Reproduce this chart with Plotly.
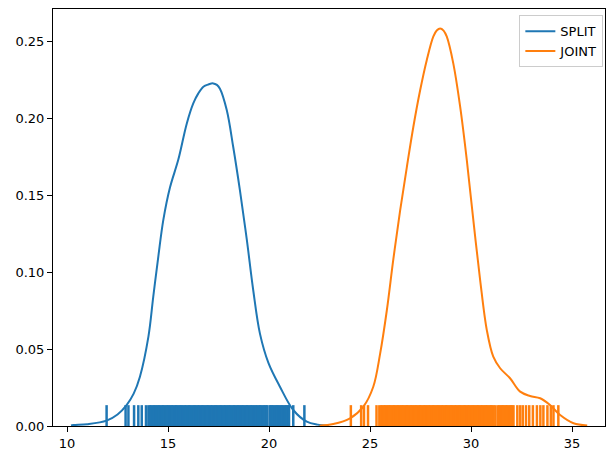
import plotly.graph_objects as go

# ---- KDE curves ----
split_kde_x = [10.20, 10.31, 11.00, 11.96, 12.50, 12.95, 13.30, 13.61, 14.03, 14.27, 14.52, 14.77,
               15.10, 15.51, 15.93, 16.25, 16.50, 16.75, 17.00, 17.24, 17.42, 17.57, 17.91, 18.23, 18.56, 18.90,
               19.22, 19.55, 19.97, 20.54, 21.20, 21.87, 22.40, 22.95]
split_kde_y = [0.0003, 0.0006, 0.0012, 0.0035, 0.0075, 0.0136, 0.0210, 0.0320, 0.0580, 0.0840, 0.1100, 0.1340,
               0.1550, 0.1730, 0.1965, 0.2095, 0.2160, 0.2203, 0.2218, 0.2225, 0.2215, 0.2190, 0.2050, 0.1810,
               0.1530, 0.1210, 0.0880, 0.0600, 0.0410, 0.0255, 0.0104, 0.0028, 0.0009, 0.0002]

joint_kde_x = [22.50, 23.18, 24.01, 24.67, 25.16, 25.50, 25.83, 26.15, 26.49, 26.82, 27.14, 27.48,
               27.81, 28.13, 28.30, 28.47, 28.64, 28.80, 29.12, 29.46, 29.79, 30.11, 30.45, 30.78, 31.10,
               31.44, 31.93, 32.43, 32.92, 33.42, 33.91, 34.41, 35.07, 35.75]
joint_kde_y = [0.0002, 0.0013, 0.0050, 0.0126, 0.0255, 0.0470, 0.0750, 0.1080, 0.1400, 0.1680, 0.1940, 0.2180,
               0.2377, 0.2528, 0.2568, 0.2582, 0.2568, 0.2528, 0.2355, 0.2074, 0.1727, 0.1340, 0.0948, 0.0623,
               0.0450, 0.0375, 0.0310, 0.0223, 0.0195, 0.0180, 0.0136, 0.0071, 0.0018, 0.0003]

# ---- rug samples (estimated from tick positions) ----
split_samples = [11.96, 12.90, 13.04, 13.32, 13.53, 13.70, 13.91, 14.03,
                 14.11, 14.17, 14.24, 14.30, 14.37, 14.43, 14.49, 14.56, 14.62, 14.69, 14.75, 14.81,
                 14.88, 14.94, 15.01, 15.07, 15.13, 15.20, 15.26, 15.33, 15.39, 15.45, 15.52, 15.58,
                 15.65, 15.71, 15.77, 15.84, 15.90, 15.97, 16.03, 16.09, 16.16, 16.22, 16.29, 16.35,
                 16.41, 16.48, 16.54, 16.61, 16.67, 16.73, 16.80, 16.86, 16.93, 16.99, 17.05, 17.12,
                 17.18, 17.25, 17.31, 17.37, 17.44, 17.50, 17.57, 17.63, 17.69, 17.76, 17.82, 17.89,
                 17.95, 18.01, 18.08, 18.14, 18.21, 18.27, 18.33, 18.40, 18.46, 18.53, 18.59, 18.65,
                 18.72, 18.78, 18.85, 18.91, 18.97, 19.04, 19.10, 19.17, 19.23, 19.29, 19.36, 19.42,
                 19.49, 19.55, 19.61, 19.68, 19.74, 19.81, 19.87, 19.91, 20.03, 20.08, 20.14, 20.20,
                 20.27, 20.33, 20.40, 20.46, 20.52, 20.59, 20.65, 20.71, 20.78, 20.84, 20.90, 20.96,
                 20.99, 21.20, 21.75]

joint_samples = [24.05, 24.56, 24.70, 24.90, 25.32, 25.46,
                 25.55, 25.61, 25.68, 25.74, 25.81, 25.87, 25.93, 26.00, 26.06, 26.13, 26.19, 26.25,
                 26.32, 26.38, 26.45, 26.51, 26.57, 26.64, 26.70, 26.77, 26.83, 26.89, 26.96, 27.02,
                 27.09, 27.15, 27.21, 27.28, 27.34, 27.41, 27.47, 27.53, 27.60, 27.66, 27.73, 27.79,
                 27.85, 27.92, 27.98, 28.05, 28.11, 28.17, 28.24, 28.30, 28.37, 28.43, 28.49, 28.56,
                 28.62, 28.69, 28.75, 28.81, 28.88, 28.94, 29.01, 29.07, 29.13, 29.20, 29.26, 29.33,
                 29.39, 29.45, 29.52, 29.58, 29.65, 29.71, 29.77, 29.84, 29.90, 29.97, 30.03, 30.09,
                 30.16, 30.22, 30.29, 30.35, 30.41, 30.48, 30.54, 30.61, 30.67, 30.73, 30.80, 30.86,
                 30.93, 30.99, 31.05, 31.12, 31.21, 31.33, 31.40, 31.46, 31.53, 31.59, 31.65, 31.72,
                 31.78, 31.85, 31.91, 31.97, 32.04, 32.10,
                 32.29, 32.43, 32.56, 32.72, 32.88, 33.06, 33.26, 33.43, 33.58, 33.78, 33.95, 34.08,
                 34.32]

x_ticks = [10, 15, 20, 25, 30, 35]
y_ticks = [0.00, 0.05, 0.10, 0.15, 0.20, 0.25]

BLUE = "#1f77b4"
ORANGE = "#ff7f0e"
X_RANGE = [9.307, 36.63]
Y_RANGE = [0.0, 0.2708]
RUG_H = 0.05 * (Y_RANGE[1] - Y_RANGE[0])


def rug_xy(samples):
    xs, ys = [], []
    for s in samples:
        xs += [s, s, None]
        ys += [0, RUG_H, None]
    return xs, ys


fig = go.Figure()

for samples, color in [(split_samples, BLUE), (joint_samples, ORANGE)]:
    rx, ry = rug_xy(samples)
    fig.add_trace(go.Scatter(x=rx, y=ry, mode="lines", line=dict(color=color, width=2.5, simplify=False),
                             showlegend=False, hoverinfo="skip"))

fig.add_trace(go.Scatter(x=split_kde_x, y=split_kde_y, mode="lines", name="SPLIT",
                         line=dict(color=BLUE, width=2, shape="spline", smoothing=1.0)))
fig.add_trace(go.Scatter(x=joint_kde_x, y=joint_kde_y, mode="lines", name="JOINT",
                         line=dict(color=ORANGE, width=2, shape="spline", smoothing=1.0)))

axis_common = dict(showline=True, linecolor="black", linewidth=1, mirror=True,
                   ticks="outside", ticklen=5, tickwidth=1, tickcolor="black",
                   showgrid=False, zeroline=False,
                   tickfont=dict(family="DejaVu Sans", size=13, color="black"))

fig.update_xaxes(range=X_RANGE, tickvals=x_ticks, ticktext=[str(t) for t in x_ticks], **axis_common)
fig.update_yaxes(range=Y_RANGE, tickvals=y_ticks, ticktext=[f"{t:.2f}" for t in y_ticks], **axis_common)

fig.update_layout(
    width=606, height=454,
    margin=dict(l=53, r=1, t=9, b=28),
    plot_bgcolor="white", paper_bgcolor="white",
    font=dict(family="DejaVu Sans", size=13, color="black"),
    legend=dict(x=0.997, y=0.985, xanchor="right", yanchor="top",
                bgcolor="rgba(255,255,255,0.8)", bordercolor="#cccccc", borderwidth=1,
                font=dict(family="DejaVu Sans", size=13, color="black"),
                itemwidth=30, tracegroupgap=0),
)

fig.write_html("out.html", config={"displayModeBar": False},
               post_script="document.body.style.margin='0px';")
